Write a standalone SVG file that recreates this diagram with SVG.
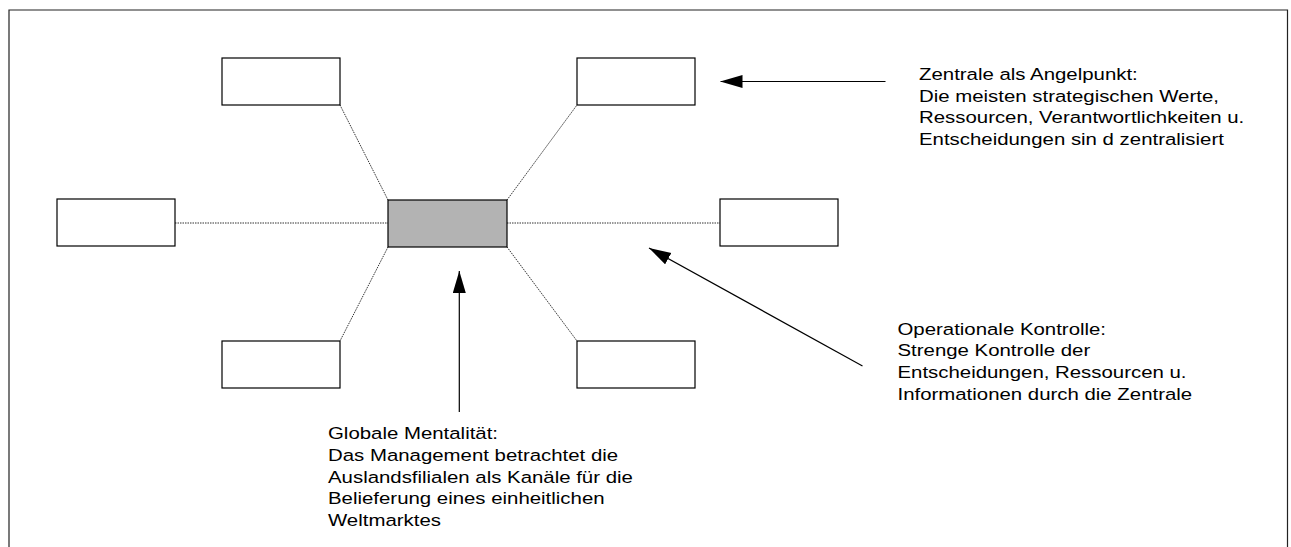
<svg xmlns="http://www.w3.org/2000/svg" width="1291" height="547" viewBox="0 0 1291 547">
<style>
.box{fill:#fff;stroke:#000;stroke-width:1.2}
.center{fill:#b3b3b3;stroke:#000;stroke-width:1.2}
.link{stroke:#333;stroke-width:1;stroke-dasharray:1.5 1;fill:none}
.arrow{stroke:#000;stroke-width:1.2;fill:none}
.lbl{font-family:"Liberation Sans",Arial,sans-serif;font-size:17px;fill:#000}
</style>
<defs>
<marker id="ah" markerWidth="22" markerHeight="14" refX="22" refY="6.5" orient="auto" markerUnits="userSpaceOnUse">
<path d="M0,0 L22,6.5 L0,13 Z" fill="#000"/>
</marker>
</defs>
<g id="frame">
<path d="M9,547 V10 H1287.5 V547" fill="none" stroke="#222" stroke-width="1.2"/>
</g>
<g id="connectors">
<line class="link" x1="388" y1="200" x2="340" y2="105"/>
<line class="link" x1="507" y1="200" x2="577" y2="105"/>
<line class="link" x1="175" y1="223" x2="388" y2="223"/>
<line class="link" x1="507" y1="223" x2="720" y2="223"/>
<line class="link" x1="388" y1="247" x2="340" y2="341"/>
<line class="link" x1="507" y1="247" x2="577" y2="341"/>
<line class="arrow" x1="885.5" y1="81.5" x2="720.5" y2="81.5" marker-end="url(#ah)"/>
<line class="arrow" x1="862.5" y1="366" x2="649" y2="248" marker-end="url(#ah)"/>
<line class="arrow" x1="459.3" y1="412" x2="459.3" y2="271" marker-end="url(#ah)"/>
</g>
<g id="node-center"><rect class="center" x="388" y="200" width="119" height="47"/></g>
<g id="node-top-left"><rect class="box" x="222" y="58" width="118" height="47"/></g>
<g id="node-top-right"><rect class="box" x="577" y="58" width="118" height="47"/></g>
<g id="node-left"><rect class="box" x="57" y="199" width="118" height="47"/></g>
<g id="node-right"><rect class="box" x="720" y="199" width="118" height="47"/></g>
<g id="node-bottom-left"><rect class="box" x="222" y="341" width="118" height="47"/></g>
<g id="node-bottom-right"><rect class="box" x="577" y="341" width="118" height="47"/></g>
<g id="label-zentrale" transform="translate(919,80) scale(1.2,1)">
<text class="lbl" x="0" y="0"><tspan x="0" y="0">Zentrale als Angelpunkt:</tspan><tspan x="0" y="21.7">Die meisten strategischen Werte,</tspan><tspan x="0" y="43.4">Ressourcen, Verantwortlichkeiten u.</tspan><tspan x="0" y="65.1">Entscheidungen sin d zentralisiert</tspan></text>
</g>
<g id="label-operational" transform="translate(897.5,334.5) scale(1.2,1)">
<text class="lbl" x="0" y="0"><tspan x="0" y="0">Operationale Kontrolle:</tspan><tspan x="0" y="21.7">Strenge Kontrolle der</tspan><tspan x="0" y="43.4">Entscheidungen, Ressourcen u.</tspan><tspan x="0" y="65.1">Informationen durch die Zentrale</tspan></text>
</g>
<g id="label-global" transform="translate(328,439.3) scale(1.2,1)">
<text class="lbl" x="0" y="0"><tspan x="0" y="0">Globale Mentalität:</tspan><tspan x="0" y="21.7">Das Management betrachtet die</tspan><tspan x="0" y="43.4">Auslandsfilialen als Kanäle für die</tspan><tspan x="0" y="65.1">Belieferung eines einheitlichen</tspan><tspan x="0" y="86.8">Weltmarktes</tspan></text>
</g>
</svg>
